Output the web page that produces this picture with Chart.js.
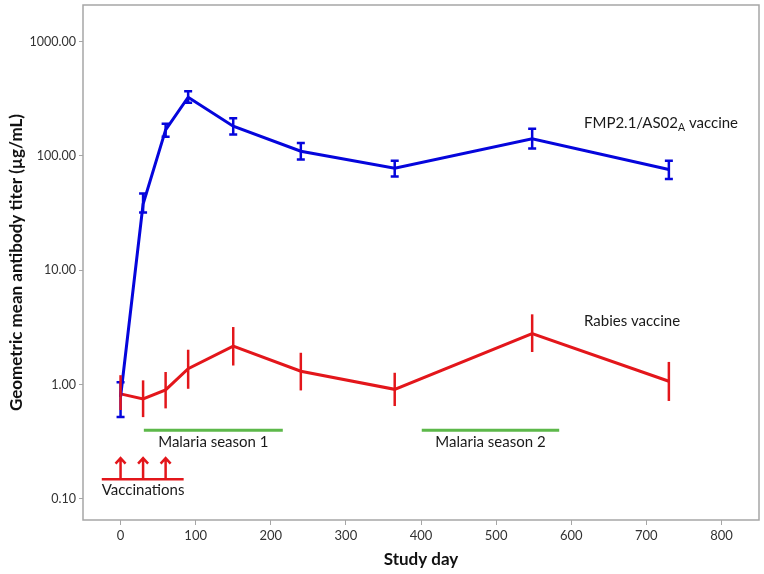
<!DOCTYPE html>
<html>
<head>
<meta charset="utf-8">
<script src="https://cdn.jsdelivr.net/npm/chart.js@4.4.1/dist/chart.umd.min.js"></script>
<style>
  html, body { margin: 0; padding: 0; background: #fff; }
  #wrap { width: 764px; height: 574px; }
</style>
</head>
<body>
<div id="wrap"><canvas id="titerChart" width="764" height="574"></canvas></div>
<script>
// Study days and titers (µg/mL) with 95% CI bounds
const days = [0, 30, 60, 90, 150, 240, 365, 548, 730];
const fmpMean = [0.78, 38, 169, 326, 182, 110, 78, 141, 76];
const fmpLow = [0.52, 32, 147, 292, 154, 93, 66, 116, 63];
const fmpHigh = [1.05, 47, 191, 368, 214, 130, 91, 173, 91];
const rabiesMean = [0.83, 0.75, 0.9, 1.38, 2.17, 1.31, 0.91, 2.79, 1.07];
const rabiesLow = [0.6, 0.52, 0.62, 0.92, 1.47, 0.89, 0.65, 1.93, 0.72];
const rabiesHigh = [1.21, 1.09, 1.29, 2.02, 3.19, 1.9, 1.27, 4.12, 1.58];

const yTicks = [0.1, 1, 10, 100, 1000];
const xTicks = [0, 100, 200, 300, 400, 500, 600, 700, 800];

const vaccinationDays = [0, 30, 60];
const seasonStarts = [31, 401];
const seasonEnds = [216, 584];
const seasonLabels = ["Malaria season 1", "Malaria season 2"];

const BLUE = "#0505dc";
const RED = "#e3161b";
const GREEN = "#5db84a";
const FONT = "Lato, 'Open Sans', sans-serif";

function toPoints(values) {
  return days.map((d, i) => ({ x: d, y: values[i] }));
}

// Error bars, annotations and plot frame
const overlayPlugin = {
  id: "overlay",
  afterDatasetsDraw(chart) {
    const { ctx, chartArea, scales } = chart;
    const x = scales.x;
    const y = scales.y;

    function errorBars(low, high, color, cap) {
      ctx.save();
      ctx.strokeStyle = color;
      ctx.lineWidth = 2.5;
      days.forEach((d, i) => {
        const px = x.getPixelForValue(d);
        const top = y.getPixelForValue(high[i]);
        const bot = y.getPixelForValue(low[i]);
        ctx.beginPath();
        ctx.moveTo(px, top);
        ctx.lineTo(px, bot);
        if (cap > 0) {
          ctx.moveTo(px - cap, top);
          ctx.lineTo(px + cap, top);
          ctx.moveTo(px - cap, bot);
          ctx.lineTo(px + cap, bot);
        }
        ctx.stroke();
      });
      ctx.restore();
    }
    errorBars(fmpLow, fmpHigh, BLUE, 4);
    errorBars(rabiesLow, rabiesHigh, RED, 0);

    ctx.save();
    ctx.fillStyle = "#1a1a1a";
    ctx.font = "15px " + FONT;
    ctx.textBaseline = "middle";

    // Malaria seasons
    ctx.strokeStyle = GREEN;
    ctx.lineWidth = 3;
    seasonStarts.forEach((s, i) => {
      const x1 = x.getPixelForValue(s);
      const x2 = x.getPixelForValue(seasonEnds[i]);
      const py = y.getPixelForValue(0.4);
      ctx.beginPath();
      ctx.moveTo(x1, py);
      ctx.lineTo(x2, py);
      ctx.stroke();
      ctx.textAlign = "center";
      ctx.fillText(seasonLabels[i], (x1 + x2) / 2, y.getPixelForValue(0.312));
    });

    // Vaccinations
    ctx.strokeStyle = RED;
    ctx.lineWidth = 2.5;
    const baseY = y.getPixelForValue(0.149);
    ctx.beginPath();
    ctx.moveTo(x.getPixelForValue(-25), baseY);
    ctx.lineTo(x.getPixelForValue(84), baseY);
    ctx.stroke();
    vaccinationDays.forEach((d) => {
      const px = x.getPixelForValue(d);
      const tip = y.getPixelForValue(0.228);
      ctx.beginPath();
      ctx.moveTo(px, baseY);
      ctx.lineTo(px, tip);
      ctx.moveTo(px - 5, tip + 5.5);
      ctx.lineTo(px, tip);
      ctx.lineTo(px + 5, tip + 5.5);
      ctx.stroke();
    });
    ctx.textAlign = "center";
    ctx.fillText("Vaccinations", x.getPixelForValue(30), y.getPixelForValue(0.119));

    // Series labels
    ctx.textAlign = "left";
    let lx = x.getPixelForValue(617);
    const ly = y.getPixelForValue(192);
    ctx.fillText("FMP2.1/AS02", lx, ly);
    lx += ctx.measureText("FMP2.1/AS02").width;
    ctx.font = "10.5px " + FONT;
    ctx.fillText("A", lx, ly + 4);
    lx += ctx.measureText("A").width;
    ctx.font = "15px " + FONT;
    ctx.fillText(" vaccine", lx, ly);
    ctx.fillText("Rabies vaccine", x.getPixelForValue(617), y.getPixelForValue(3.6));

    // Frame
    ctx.strokeStyle = "#a6a6a6";
    ctx.lineWidth = 1.5;
    ctx.strokeRect(chartArea.left, chartArea.top,
      chartArea.right - chartArea.left, chartArea.bottom - chartArea.top);
    ctx.restore();
  },
};

const ctx = document.getElementById("titerChart").getContext("2d");
new Chart(ctx, {
  type: "line",
  data: {
    datasets: [
      {
        label: "FMP2.1/AS02A vaccine",
        data: toPoints(fmpMean),
        borderColor: BLUE,
        borderWidth: 3,
        pointRadius: 0,
        tension: 0,
      },
      {
        label: "Rabies vaccine",
        data: toPoints(rabiesMean),
        borderColor: RED,
        borderWidth: 3,
        pointRadius: 0,
        tension: 0,
      },
    ],
  },
  options: {
    responsive: false,
    animation: false,
    layout: { padding: { top: 5, right: 5, left: 0, bottom: 0 } },
    plugins: {
      legend: { display: false },
      tooltip: { enabled: false },
    },
    scales: {
      x: {
        type: "linear",
        min: -50,
        max: 850,
        afterBuildTicks: (axis) => {
          axis.ticks = xTicks.map((v) => ({ value: v }));
        },
        afterFit: (axis) => {
          axis.height = 54;
          axis.paddingLeft = 0;
          axis.paddingRight = 0;
        },
        border: { display: false },
        grid: { drawOnChartArea: false, tickLength: 5, color: "#a6a6a6" },
        ticks: { color: "#333", font: { family: FONT, size: 13 }, padding: 3 },
        title: {
          display: true,
          text: "Study day",
          color: "#111",
          font: { family: FONT, size: 17, weight: "bold" },
          padding: { top: 0, bottom: 4 },
        },
      },
      y: {
        type: "logarithmic",
        min: 0.0655,
        max: 2090,
        afterBuildTicks: (axis) => {
          axis.ticks = yTicks.map((v) => ({ value: v }));
        },
        afterFit: (axis) => {
          axis.width = 83;
          axis.paddingTop = 0;
          axis.paddingBottom = 0;
        },
        border: { display: false },
        grid: { drawOnChartArea: false, tickLength: 4, color: "#a6a6a6" },
        ticks: {
          color: "#333",
          font: { family: FONT, size: 12.5 },
          padding: 3,
          callback: (v) => Number(v).toFixed(2),
        },
        title: {
          display: true,
          text: "Geometric mean antibody titer (µg/mL)",
          color: "#111",
          font: { family: FONT, size: 17, weight: "bold" },
          padding: { top: 6, bottom: 0 },
        },
      },
    },
  },
  plugins: [overlayPlugin],
});
</script>
</body>
</html>
